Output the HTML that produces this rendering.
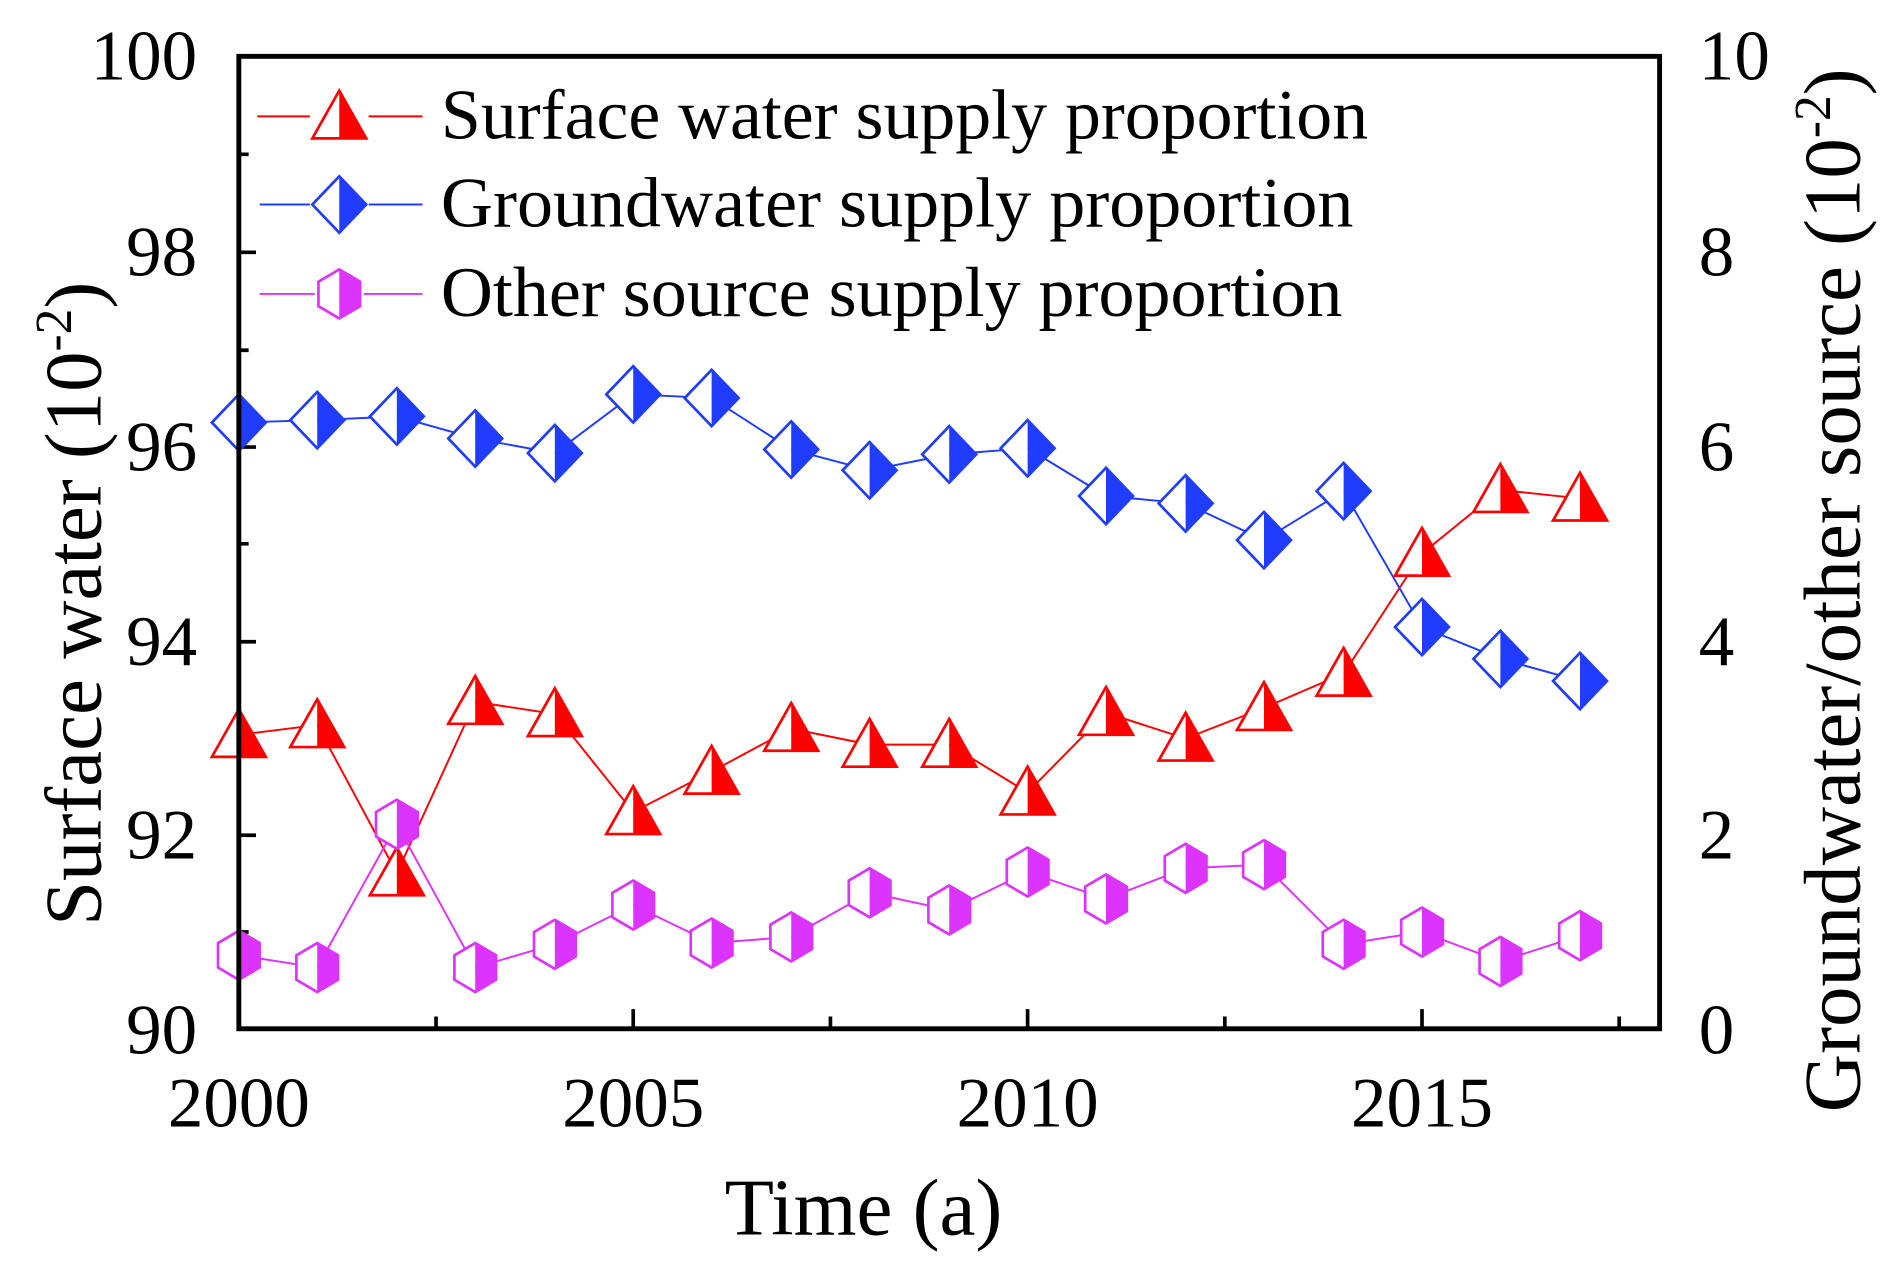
<!DOCTYPE html>
<html><head><meta charset="utf-8"><style>html,body{margin:0;padding:0;background:#fff}svg{display:block}</style></head>
<body>
<svg width="1896" height="1272" viewBox="0 0 1548 1038.6" preserveAspectRatio="none" xmlns="http://www.w3.org/2000/svg" font-family="Liberation Serif, serif">
<defs>
<g id="tri"><path d="M0,-21 L-22,18 L0,18 Z" fill="#fff"/><path d="M0,-21 L22,18 L0,18 Z" fill="#f00"/><path d="M0,-21 L22,18 L-22,18 Z" fill="none" stroke="#f00" stroke-width="2.2"/></g>
<g id="dia"><path d="M0,-23 L-22,0 L0,23 Z" fill="#fff"/><path d="M0,-23 L22,0 L0,23 Z" fill="#1f3cff"/><path d="M0,-23 L22,0 L0,23 L-22,0 Z" fill="none" stroke="#1f3cff" stroke-width="2.2"/></g>
<g id="hex"><path d="M0,-20 L-17,-10 L-17,10 L0,20 Z" fill="#fff"/><path d="M0,-20 L17,-10 L17,10 L0,20 Z" fill="#dd33ff"/><path d="M0,-20 L17,-10 L17,10 L0,20 L-17,10 L-17,-10 Z" fill="none" stroke="#dd33ff" stroke-width="2.2"/></g>
</defs>
<g stroke="#000" stroke-width="3">
<path d="M195,206h14M195,365h14M195,524h14M195,682h14M195,126h8M195,286h8M195,444h8M195,603h8M195,761h8"/>
<path d="M517,840v-16M839,840v-16M1161,840v-16M356,840v-10M678,840v-10M1000,840v-10M1322,840v-10"/>
</g>
<polyline fill="none" stroke="#f00" stroke-width="1.6" points="195,600 259,592 324,713 388,573 453,583 517,663 581,630 646,595 710,608 775,608 839,647 903,582 968,603 1032,578 1097,550 1161,452 1225,400 1290,407"/>
<polyline fill="none" stroke="#1f3cff" stroke-width="1.6" points="195,345 259,343 324,340 388,358 453,370 517,322 581,325 646,367 710,384 775,371 839,366 903,405 968,411 1032,441 1097,401 1161,512 1225,538 1290,556"/>
<polyline fill="none" stroke="#dd33ff" stroke-width="1.6" points="195,780 259,790 324,673 388,790 453,771 517,739 581,770 646,765 710,729 775,743 839,712 903,734 968,709 1032,706 1097,771 1161,761 1225,785 1290,764"/>
<g>
<use href="#tri" x="195" y="600"/><use href="#tri" x="259" y="592"/><use href="#tri" x="324" y="713"/><use href="#tri" x="388" y="573"/><use href="#tri" x="453" y="583"/><use href="#tri" x="517" y="663"/><use href="#tri" x="581" y="630"/><use href="#tri" x="646" y="595"/><use href="#tri" x="710" y="608"/><use href="#tri" x="775" y="608"/><use href="#tri" x="839" y="647"/><use href="#tri" x="903" y="582"/><use href="#tri" x="968" y="603"/><use href="#tri" x="1032" y="578"/><use href="#tri" x="1097" y="550"/><use href="#tri" x="1161" y="452"/><use href="#tri" x="1225" y="400"/><use href="#tri" x="1290" y="407"/>
<use href="#dia" x="195" y="345"/><use href="#dia" x="259" y="343"/><use href="#dia" x="324" y="340"/><use href="#dia" x="388" y="358"/><use href="#dia" x="453" y="370"/><use href="#dia" x="517" y="322"/><use href="#dia" x="581" y="325"/><use href="#dia" x="646" y="367"/><use href="#dia" x="710" y="384"/><use href="#dia" x="775" y="371"/><use href="#dia" x="839" y="366"/><use href="#dia" x="903" y="405"/><use href="#dia" x="968" y="411"/><use href="#dia" x="1032" y="441"/><use href="#dia" x="1097" y="401"/><use href="#dia" x="1161" y="512"/><use href="#dia" x="1225" y="538"/><use href="#dia" x="1290" y="556"/>
<use href="#hex" x="195" y="780"/><use href="#hex" x="259" y="790"/><use href="#hex" x="324" y="673"/><use href="#hex" x="388" y="790"/><use href="#hex" x="453" y="771"/><use href="#hex" x="517" y="739"/><use href="#hex" x="581" y="770"/><use href="#hex" x="646" y="765"/><use href="#hex" x="710" y="729"/><use href="#hex" x="775" y="743"/><use href="#hex" x="839" y="712"/><use href="#hex" x="903" y="734"/><use href="#hex" x="968" y="709"/><use href="#hex" x="1032" y="706"/><use href="#hex" x="1097" y="771"/><use href="#hex" x="1161" y="761"/><use href="#hex" x="1225" y="785"/><use href="#hex" x="1290" y="764"/>
</g>
<rect x="195" y="46" width="1160" height="794" fill="none" stroke="#000" stroke-width="4"/>
<line x1="210" y1="95" x2="345" y2="95" stroke="#f00" stroke-width="1.6"/><rect x="253" y="72" width="48" height="48" fill="#fff"/><use href="#tri" x="277" y="95"/>
<line x1="212" y1="167" x2="345" y2="167" stroke="#1f3cff" stroke-width="1.6"/><rect x="253" y="142" width="48" height="50" fill="#fff"/><use href="#dia" x="277" y="167"/>
<line x1="212" y1="240" x2="345" y2="240" stroke="#dd33ff" stroke-width="1.6"/><rect x="257" y="218" width="40" height="44" fill="#fff"/><use href="#hex" x="277" y="240"/>
<g font-size="58" fill="#000">
<text x="360" y="113" textLength="757" lengthAdjust="spacingAndGlyphs">Surface water supply proportion</text>
<text x="360" y="185" textLength="745" lengthAdjust="spacingAndGlyphs">Groundwater supply proportion</text>
<text x="360" y="258" textLength="736" lengthAdjust="spacingAndGlyphs">Other source supply proportion</text>
</g>
<g font-size="58" fill="#000" text-anchor="end">
<text x="161" y="65">100</text><text x="161" y="225">98</text><text x="161" y="384">96</text><text x="161" y="543">94</text><text x="161" y="701">92</text><text x="161" y="860">90</text>
</g>
<g font-size="58" fill="#000" text-anchor="start">
<text x="1387" y="65">10</text><text x="1387" y="225">8</text><text x="1387" y="384">6</text><text x="1387" y="543">4</text><text x="1387" y="701">2</text><text x="1387" y="860">0</text>
</g>
<g font-size="58" fill="#000" text-anchor="middle">
<text x="195" y="920">2000</text><text x="517" y="920">2005</text><text x="839" y="920">2010</text><text x="1161" y="920">2015</text>
</g>
<text x="705" y="1008" font-size="66" text-anchor="middle">Time (a)</text>
<text transform="translate(82,493) rotate(-90)" font-size="66" text-anchor="middle">Surface water (10<tspan dy="-24" font-size="42">-2</tspan><tspan dy="24">)</tspan></text>
<text transform="translate(1518,482) rotate(-90)" font-size="66" text-anchor="middle">Groundwater/other source (10<tspan dy="-24" font-size="42">-2</tspan><tspan dy="24">)</tspan></text>
</svg>
</body></html>
